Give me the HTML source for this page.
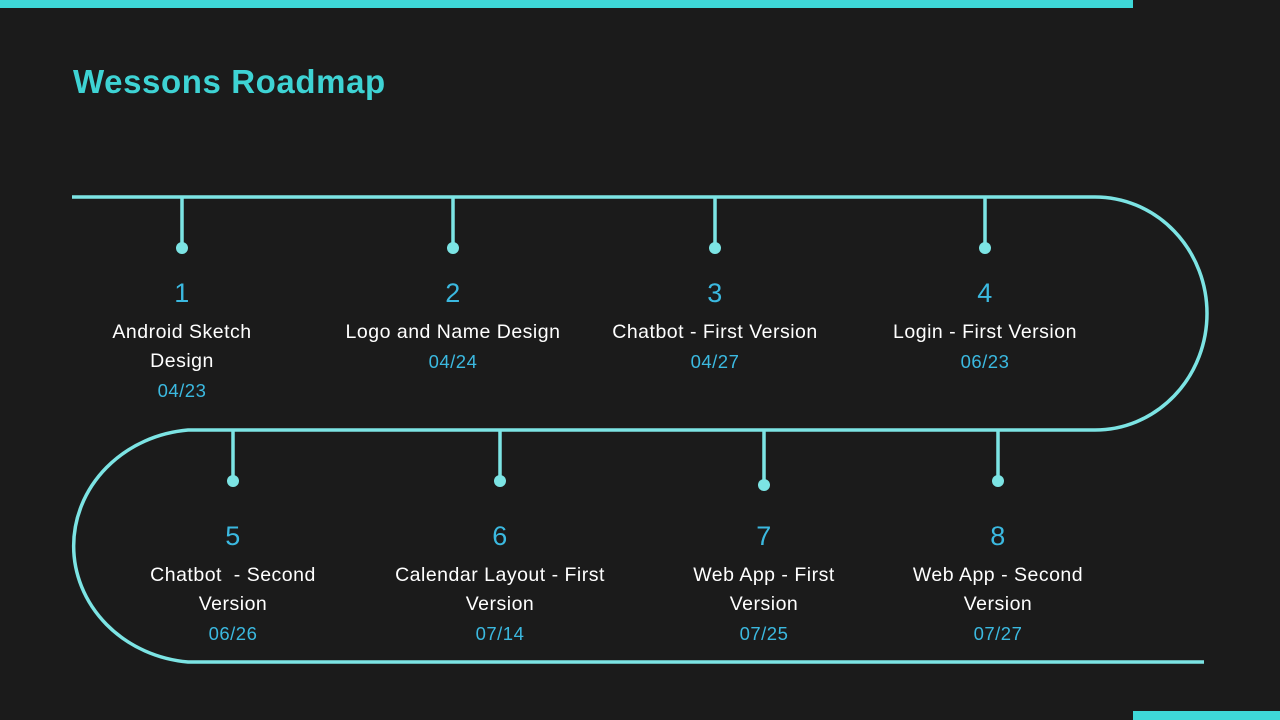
<!DOCTYPE html>
<html><head><style>
body{margin:0;width:1280px;height:720px;background:#1b1b1b;overflow:hidden;position:relative;font-family:"Liberation Sans",sans-serif}
.t{position:absolute;left:73px;top:63px;font-size:33px;font-weight:bold;color:#3ed3d4;letter-spacing:0.6px}
.it{position:absolute;width:260px;text-align:center;color:#fff;font-size:19.5px;line-height:29px;letter-spacing:0.5px}
.n{color:#3bb9e0;font-size:27px;display:block;margin-bottom:10px}
.d{color:#3bb9e0;font-size:18.5px;display:block}
</style></head><body>
<div style="position:absolute;left:0;top:0;width:1133px;height:8px;background:#3ed8d8"></div>
<div style="position:absolute;left:1133px;top:711px;width:147px;height:9px;background:#3ed8d8"></div>
<div class="t">Wessons Roadmap</div>
<svg width="1280" height="720" style="position:absolute;left:0;top:0">
<g stroke="#7ce4e4" stroke-width="3.5" fill="none">
<path d="M72 197 H1095 A112 116.5 0 0 1 1095 430 H188 A126 116.5 0 0 0 188 662 H1204"/>
<path d="M182 197V248M453 197V248M715 197V248M985 197V248M233 430V481M500 430V481M764 430V485M998 430V481"/>
</g>
<g fill="#7ce4e4">
<circle cx="182" cy="248" r="6"/><circle cx="453" cy="248" r="6"/><circle cx="715" cy="248" r="6"/><circle cx="985" cy="248" r="6"/>
<circle cx="233" cy="481" r="6"/><circle cx="500" cy="481" r="6"/><circle cx="764" cy="485" r="6"/><circle cx="998" cy="481" r="6"/>
</g></svg>
<div class="it" style="left:52px;top:279px"><span class="n">1</span>Android Sketch<br>Design<span class="d">04/23</span></div>
<div class="it" style="left:323px;top:279px"><span class="n">2</span>Logo and Name Design<span class="d">04/24</span></div>
<div class="it" style="left:585px;top:279px"><span class="n">3</span>Chatbot - First Version<span class="d">04/27</span></div>
<div class="it" style="left:855px;top:279px"><span class="n">4</span>Login - First Version<span class="d">06/23</span></div>
<div class="it" style="left:103px;top:522px"><span class="n">5</span>Chatbot &nbsp;- Second<br>Version<span class="d">06/26</span></div>
<div class="it" style="left:370px;top:522px"><span class="n">6</span>Calendar Layout - First<br>Version<span class="d">07/14</span></div>
<div class="it" style="left:634px;top:522px"><span class="n">7</span>Web App - First<br>Version<span class="d">07/25</span></div>
<div class="it" style="left:868px;top:522px"><span class="n">8</span>Web App - Second<br>Version<span class="d">07/27</span></div>
</body></html>
